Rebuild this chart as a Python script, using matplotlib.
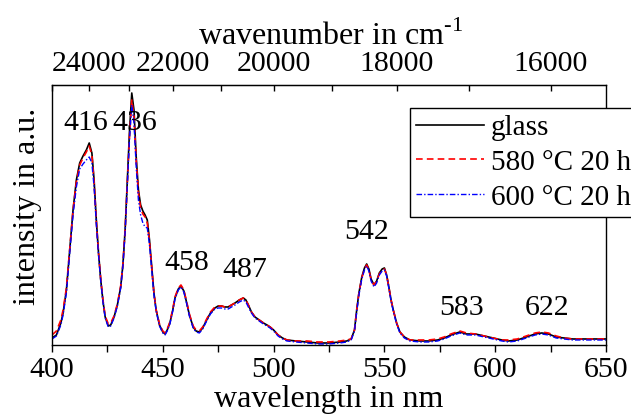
import matplotlib.pyplot as plt

plt.rcParams['font.family'] = ['Liberation Serif', 'DejaVu Serif']
plt.rcParams['mathtext.fontset'] = 'custom'
plt.rcParams['mathtext.rm'] = 'Liberation Serif'

wavelength = [400, 402, 404, 405, 406.5, 408, 409.5, 411, 412.5, 414, 415.5, 416.8, 418, 419, 420,
              421, 422, 423, 424, 425.4, 426.5, 428, 429.5, 431, 432, 433, 434, 435, 436, 437,
              438, 439, 440, 441, 442, 443, 444, 445, 446, 447, 448.5, 450, 451, 452, 453.2,
              454.5, 455.5, 457, 458.2, 459.5, 460.8, 462, 463.7, 465, 466.5, 468, 469.8, 471.5, 473.5, 475,
              476.5, 478, 479.5, 481, 482.6, 484.5, 486.3, 487.5, 488.6, 490, 491.6, 493.5, 495.4, 497, 498.4,
              500, 502, 504, 506, 510, 515, 520, 525, 530, 533, 535, 536.5, 537.5, 538.5, 539.8,
              541, 542, 543, 544, 545.3, 546.5, 547.7, 549, 550, 551, 552, 553, 554, 555.5, 557,
              559, 561.5, 566, 570, 574, 577, 580, 582.6, 584, 587, 591, 595, 599, 603, 606,
              610, 614, 618, 621, 624, 627.5, 631, 635, 640, 645, 650]

glass = [7, 10, 22, 32, 55, 95, 135, 165, 182, 189, 195, 202, 192, 165, 125,
         92, 65, 44, 28, 19, 20, 28, 40, 58, 80, 115, 165, 215, 252, 235,
         188, 155, 140, 134, 130, 125, 105, 78, 52, 35, 20, 13, 11, 15, 22,
         35, 47, 56, 59, 54, 42, 30, 18, 14, 13, 17, 25, 32, 37, 39,
         39, 38, 38, 40, 42, 45, 47, 45, 40, 33, 28, 25, 22, 20, 18,
         15, 10, 7, 5, 4, 3, 2, 2, 3, 4, 6, 15, 35, 52, 68,
         77, 81, 76, 66, 60, 64, 72, 76, 77, 70, 58, 45, 35, 22, 13,
         8, 5, 4, 4, 5, 7, 10, 12, 13, 11, 11, 9, 7, 5, 4,
         5, 8, 11, 12, 11, 8, 7, 6, 6, 6, 6]

c580 = [10, 14, 25, 35, 57, 96, 135, 163, 180, 187, 193, 199, 190, 163, 124,
        92, 66, 45, 29, 21, 22, 29, 41, 59, 81, 115, 163, 210, 245, 228,
        184, 152, 137, 131, 128, 122, 103, 77, 52, 35, 21, 14, 12, 16, 23,
        36, 48, 57, 60, 55, 43, 31, 19, 15, 14, 18, 26, 33, 38, 39,
        39, 38, 38, 40, 42, 45, 47, 45, 40, 33, 28, 25, 22, 20, 18,
        15, 10, 7, 5, 4, 4, 3, 3, 4, 5, 6, 15, 35, 52, 67,
        76, 80, 75, 65, 60, 64, 71, 75, 76, 70, 58, 45, 35, 22, 13,
        8, 5, 5, 5, 6, 8, 11, 13, 14, 12, 11, 9, 7, 5, 5,
        6, 9, 12, 13, 12, 9, 7, 6, 6, 6, 6]

c600 = [6, 9, 20, 30, 52, 92, 130, 158, 176, 181, 185, 188, 182, 158, 121,
        90, 64, 43, 27, 18, 19, 27, 39, 57, 79, 113, 160, 207, 240, 222,
        178, 145, 130, 122, 118, 117, 100, 75, 50, 34, 19, 12, 10, 14, 21,
        34, 46, 55, 58, 53, 41, 29, 17, 13, 12, 16, 24, 31, 36, 37,
        37, 36, 36, 38, 40, 43, 45, 43, 38, 32, 27, 24, 21, 19, 17,
        14, 9, 6, 4, 3, 2, 1, 1, 2, 3, 5, 14, 33, 50, 66,
        75, 79, 74, 64, 58, 62, 70, 74, 75, 69, 57, 44, 34, 21, 12,
        7, 4, 3, 3, 4, 6, 9, 11, 12, 10, 10, 8, 6, 4, 3,
        4, 7, 10, 11, 10, 7, 6, 5, 5, 5, 5]

peak_labels = ['416', '436', '458', '487', '542', '583', '622']
peak_x = [415.3, 437.5, 460.8, 486.8, 542, 584.6, 623.2]
peak_y = [222, 222, 82, 75, 113, 37, 37]

top_major = [24000, 22000, 20000, 18000, 16000]
top_minor = [25000, 23000, 21000, 19000, 17000]

fs_tick = 21.5
fs_label = 23

fig = plt.figure(figsize=(6.31, 4.17), dpi=100)
ax = fig.add_axes([0.0824, 0.1727, 0.878, 0.6235])

ax.plot(wavelength, glass, color='black', lw=1.2, label='glass')
ax.plot(wavelength, c580, color='red', lw=1.2, dashes=(4, 2.5), label='580 °C 20 h')
ax.plot(wavelength, c600, color='blue', lw=1.0, dashes=(4, 1.5, 1, 1.5), label='600 °C 20 h')

for lab, x, y in zip(peak_labels, peak_x, peak_y):
    ax.text(x, y, lab, fontsize=fs_tick, ha='center', va='center')

ax.set_xlim(400, 650)
ax.set_ylim(0, 260)
ax.set_yticks([])
ax.set_xticks([400, 450, 500, 550, 600, 650])
ax.set_xticks([425, 475, 525, 575, 625], minor=True)
ax.tick_params(axis='x', which='both', direction='out', length=5, width=1, labelsize=fs_tick, pad=3.3)
ax.set_xlabel('wavelength in nm', fontsize=fs_label)
ax.xaxis.set_label_coords(0.5, -0.155)
ax.set_ylabel('intensity in a.u.', fontsize=fs_label)
ax.yaxis.set_label_coords(-0.018, 0.535)

top = ax.secondary_xaxis('top', functions=(lambda x: 1e7 / x, lambda x: 1e7 / x))
top.set_xticks(top_major)
top.set_xticks(top_minor, minor=True)
top.tick_params(which='both', direction='in', length=4.5, width=1, labelsize=fs_tick, pad=6)
ax.text(0.502, 1.154, 'wavenumber in $\\mathrm{cm}^{\\text{-1}}$', fontsize=fs_label,
        ha='center', va='baseline', transform=ax.transAxes)

for s in ax.spines.values():
    s.set_linewidth(1)

leg = ax.legend(loc='upper left', bbox_to_anchor=(410 / 631, 1 - 108 / 417),
                bbox_transform=fig.transFigure, fontsize=21, frameon=True,
                fancybox=False, edgecolor='black', framealpha=1,
                handlelength=2.3, handletextpad=0.26, labelspacing=0.29,
                borderpad=0.22, borderaxespad=0)
leg.get_frame().set_linewidth(1)

fig.savefig('out.png', dpi=100)
